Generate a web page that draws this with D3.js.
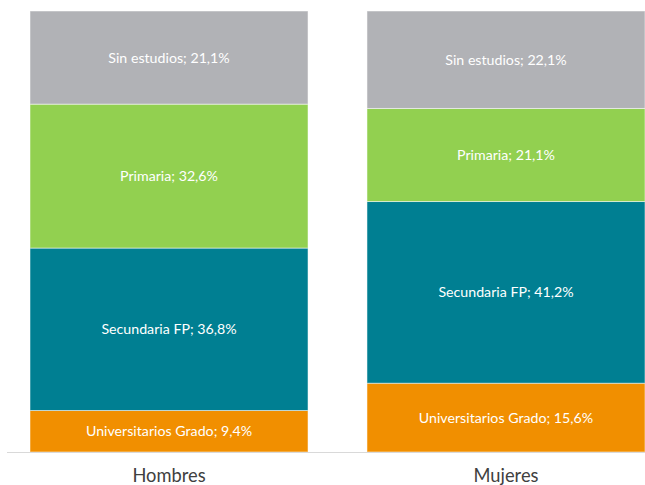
<!DOCTYPE html>
<html>
<head>
<meta charset="utf-8">
<script src="https://cdn.jsdelivr.net/npm/d3@7"></script>
<style>
  html, body { margin: 0; padding: 0; background: #fff; }
  svg { display: block; }
</style>
</head>
<body>
<svg id="chart" width="645" height="485"></svg>
<script>
const categories = ["Hombres", "Mujeres"];
const seriesNames = ["Universitarios Grado", "Secundaria FP", "Primaria", "Sin estudios"];
const universitarios = [9.4, 15.6];
const secundaria = [36.8, 41.2];
const primaria = [32.6, 21.1];
const sinEstudios = [21.1, 22.1];
const seriesColors = ["#F18F00", "#007F92", "#92D050", "#B1B2B6"];

const seriesValues = [universitarios, secundaria, primaria, sinEstudios];
const rows = categories.map((c, i) => {
  const r = { cat: c };
  seriesNames.forEach((s, j) => r[s] = seriesValues[j][i]);
  return r;
});

const svg = d3.select("#chart");
const x = d3.scaleBand().domain(categories).range([30, 645]).paddingInner(0.175).paddingOuter(0);
const y = d3.scaleLinear().domain([0, 1]).range([452, 11]);

const stack = d3.stack().keys(seriesNames).offset(d3.stackOffsetExpand);
const layers = stack(rows);

const fmt = v => v.toFixed(1).replace(".", ",") + "%";

layers.forEach((layer, j) => {
  const g = svg.append("g");
  g.selectAll("rect").data(layer).join("rect")
    .attr("x", d => x(d.data.cat))
    .attr("width", x.bandwidth())
    .attr("y", d => y(d[1]))
    .attr("height", d => y(d[0]) - y(d[1]))
    .attr("fill", seriesColors[j])
    .attr("stroke", "#ffffff")
    .attr("stroke-opacity", 0.5)
    .attr("stroke-width", 1);
  g.selectAll("text").data(layer).join("text")
    .attr("x", d => x(d.data.cat) + x.bandwidth() / 2)
    .attr("y", d => (y(d[0]) + y(d[1])) / 2)
    .attr("dy", "0.35em")
    .attr("text-anchor", "middle")
    .attr("fill", "#ffffff")
    .attr("font-family", "Lato, 'Open Sans', sans-serif")
    .attr("font-size", 14.2)
    .text(d => layer.key + "; " + fmt(d.data[layer.key]));
});

// axis line
svg.append("line")
  .attr("x1", 7).attr("x2", 645)
  .attr("y1", 452.5).attr("y2", 452.5)
  .attr("stroke", "#d9d9d9").attr("stroke-width", 1);

const xAxis = d3.axisBottom(x).tickSize(0).tickPadding(0);
const ax = svg.append("g").attr("transform", "translate(0,452)").call(xAxis);
ax.select(".domain").remove();
ax.selectAll("text")
  .attr("y", 24)
  .attr("dy", "0.35em")
  .attr("fill", "#404040")
  .attr("font-family", "Lato, 'Open Sans', sans-serif")
  .attr("font-size", 18.3);
</script>
</body>
</html>
